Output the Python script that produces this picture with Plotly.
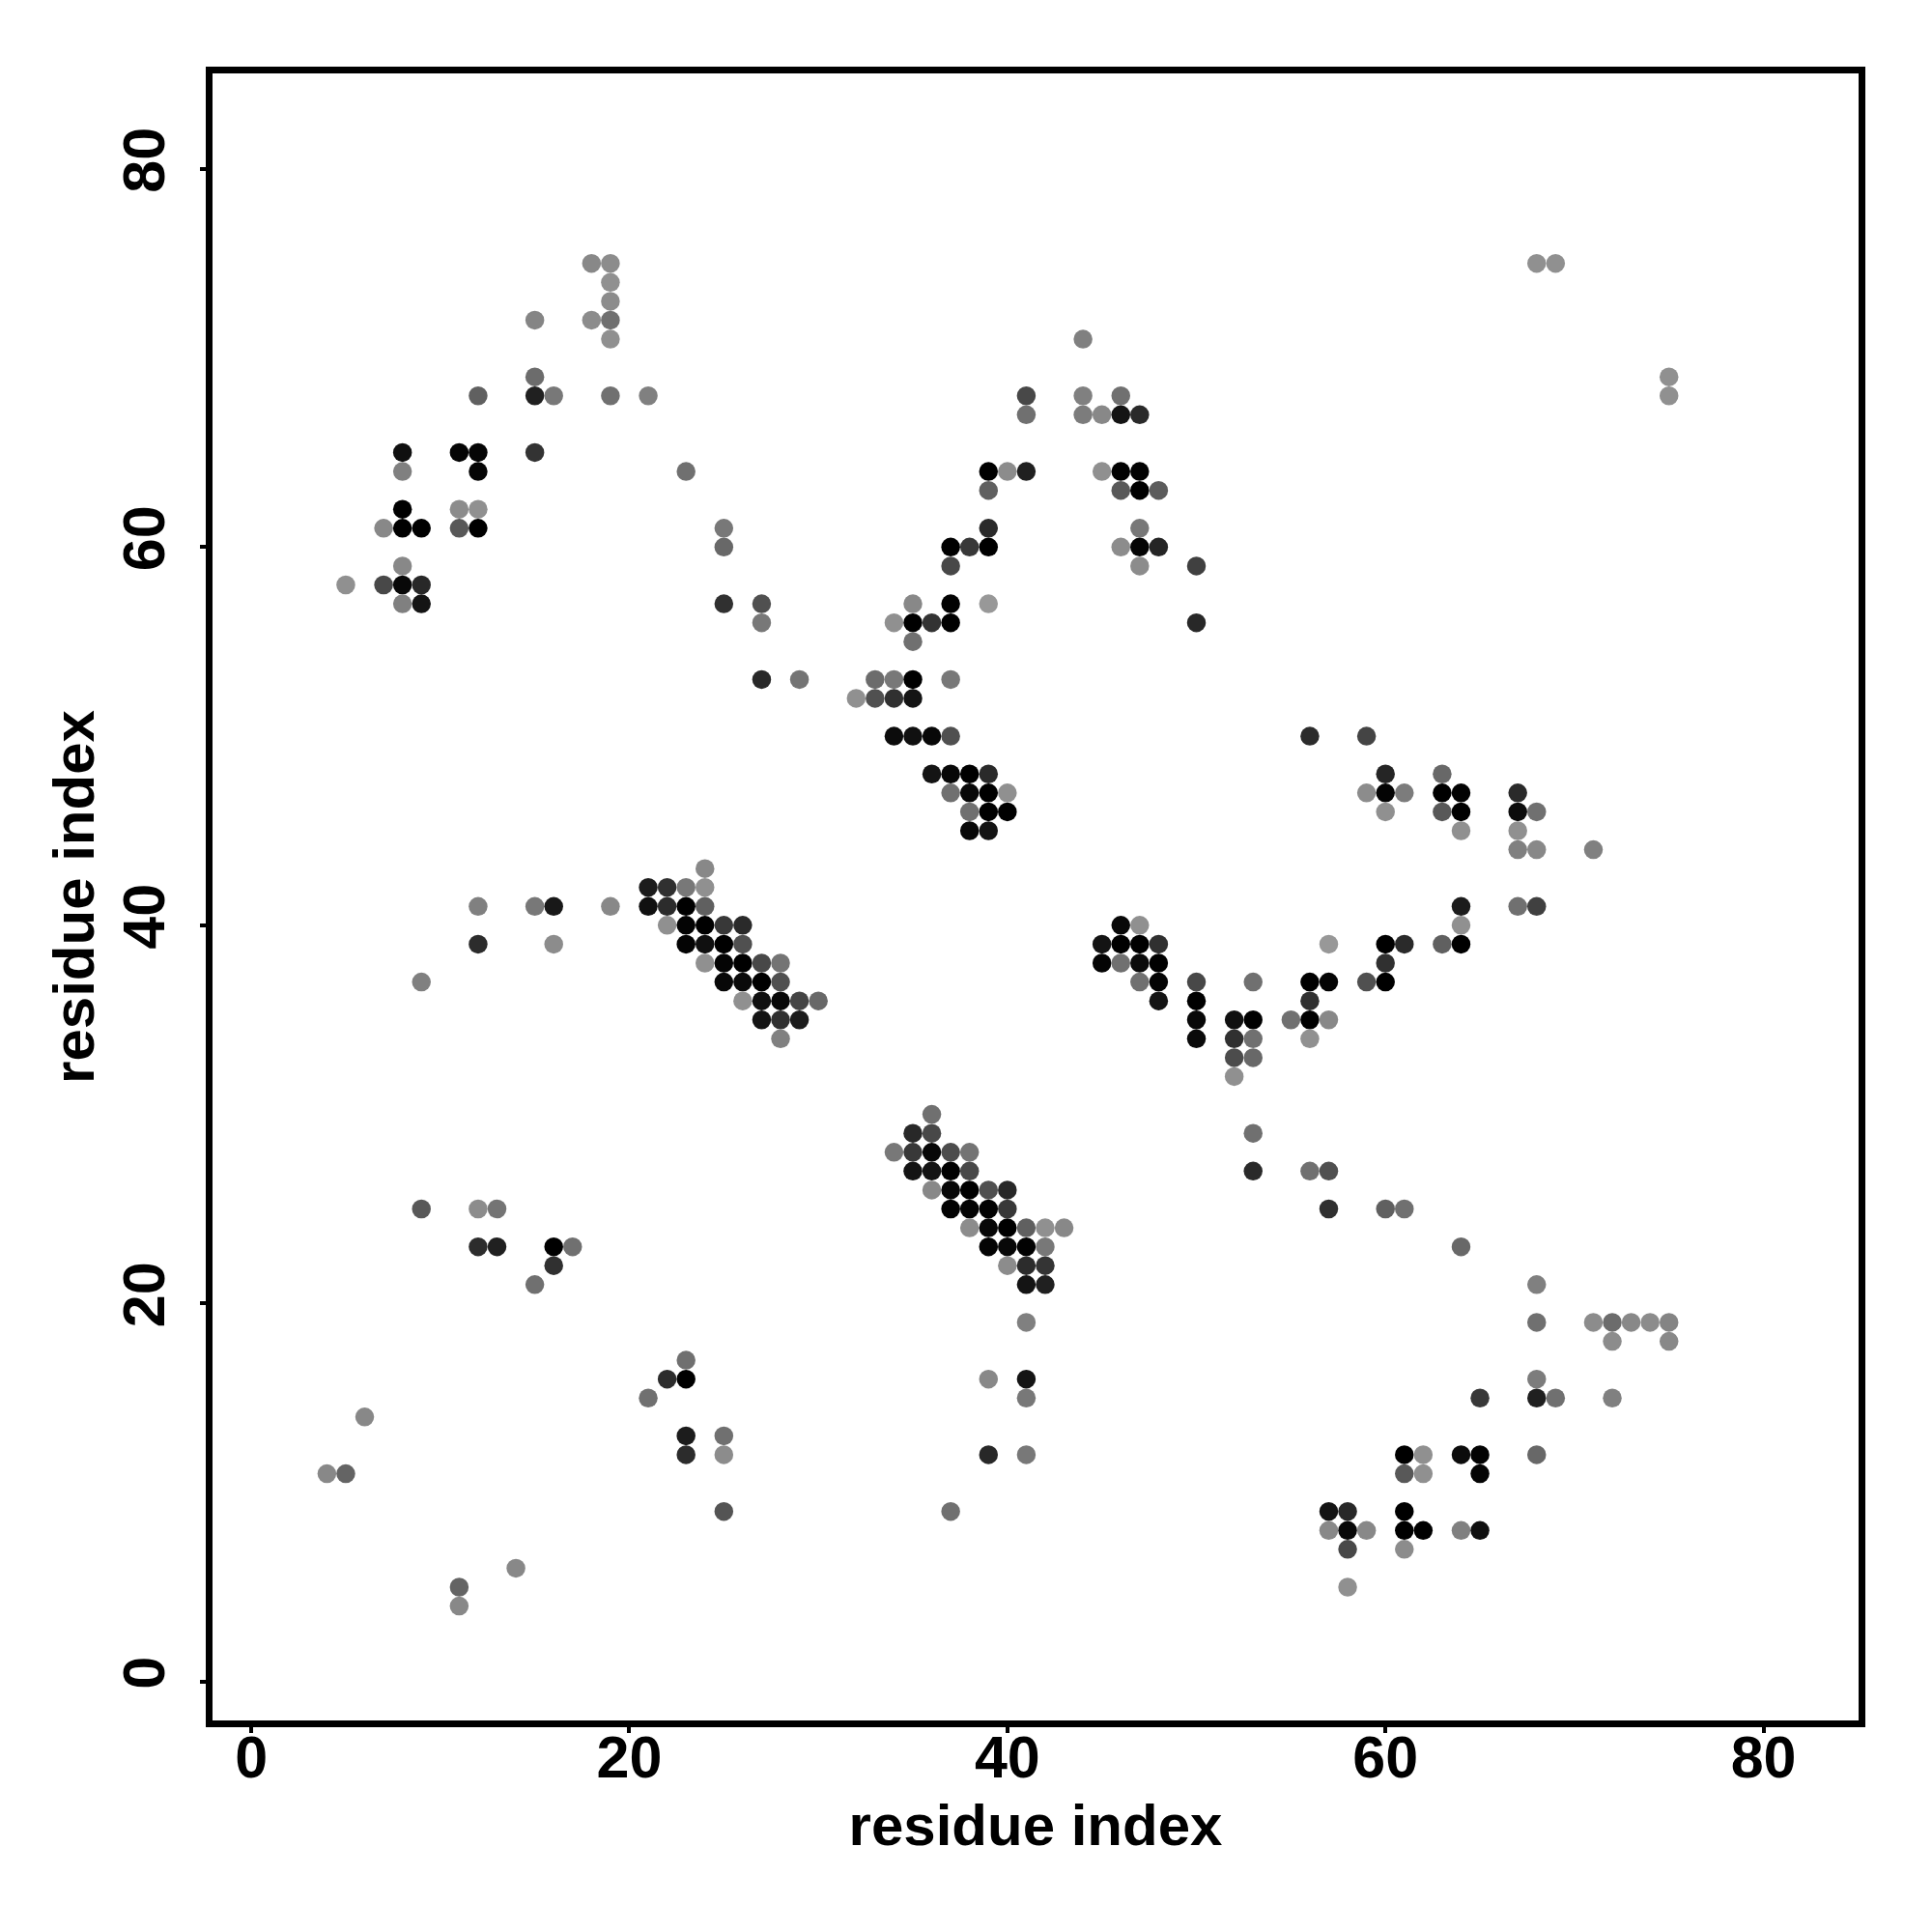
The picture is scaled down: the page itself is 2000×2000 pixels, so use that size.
import plotly.graph_objects as go

row_y = [75, 74, 73, 72, 71, 69, 68, 67, 65, 64, 63, 62, 61, 60, 59, 58, 57, 56, 55, 53, 52, 50, 48, 47, 46, 45, 44,
         43, 42, 41, 40, 39, 38, 37, 36, 35, 34, 33, 32, 30, 29, 28, 27, 26, 25, 24, 23, 22, 21, 19, 18, 17, 16, 15,
         14, 13, 12, 11, 9, 8, 7, 6, 5, 4]

row_x = [
    [18, 19, 68, 69], [19], [19], [15, 18, 19], [19, 44], [15, 75],
    [12, 15, 16, 19, 21, 41, 44, 46, 75], [41, 44, 45, 46, 47], [8, 11, 12, 15],
    [8, 12, 23, 39, 40, 41, 45, 46, 47], [39, 46, 47, 48], [8, 11, 12],
    [7, 8, 9, 11, 12, 25, 39, 47], [25, 37, 38, 39, 46, 47, 48], [8, 37, 47, 50],
    [5, 7, 8, 9], [8, 9, 25, 27, 35, 37, 39], [27, 34, 35, 36, 37, 50], [35],
    [27, 29, 33, 34, 35, 37], [32, 33, 34, 35], [34, 35, 36, 37, 56, 59],
    [36, 37, 38, 39, 60, 63], [37, 38, 39, 40, 59, 60, 61, 63, 64, 67],
    [38, 39, 40, 60, 63, 64, 67, 68], [38, 39, 64, 67], [67, 68, 71],
    [24], [21, 22, 23, 24], [12, 15, 16, 19, 21, 22, 23, 24, 64, 67, 68],
    [22, 23, 24, 25, 26, 46, 47, 64],
    [12, 16, 23, 24, 25, 26, 45, 46, 47, 48, 57, 60, 61, 63, 64],
    [24, 25, 26, 27, 28, 45, 46, 47, 48, 60],
    [9, 25, 26, 27, 28, 47, 48, 50, 53, 56, 57, 59, 60],
    [26, 27, 28, 29, 30, 48, 50, 56], [27, 28, 29, 50, 52, 53, 55, 56, 57],
    [28, 50, 52, 53, 56], [52, 53], [52], [36], [35, 36, 53], [34, 35, 36, 37, 38],
    [35, 36, 37, 38, 53, 56, 57], [36, 37, 38, 39, 40],
    [9, 12, 13, 37, 38, 39, 40, 57, 60, 61], [38, 39, 40, 41, 42, 43],
    [12, 13, 16, 17, 39, 40, 41, 42, 64], [16, 40, 41, 42], [15, 41, 42, 68],
    [41, 68, 71, 72, 73, 74, 75], [72, 75], [23], [22, 23, 39, 41, 68],
    [21, 41, 65, 68, 69, 72], [6], [23, 25], [23, 25, 39, 41, 61, 62, 64, 65, 68],
    [4, 5, 61, 62, 65], [25, 37, 57, 58, 61], [57, 58, 59, 61, 62, 64, 65],
    [58, 61], [14], [11, 58], [11],
]

row_grey = [
    [0x88, 0x8c, 0x90, 0x90], [0x90], [0x8c], [0x85, 0x8c, 0x70], [0x90, 0x80], [0x6c, 0x90],
    [0x60, 0x20, 0x78, 0x70, 0x80, 0x48, 0x80, 0x70, 0x90], [0x70, 0x7c, 0x88, 0x14, 0x2a], [0x10, 0x05, 0x05, 0x33],
    [0x80, 0x05, 0x70, 0x00, 0x8c, 0x20, 0x90, 0x02, 0x02], [0x60, 0x58, 0x00, 0x5c], [0x00, 0x8c, 0x90],
    [0x88, 0x00, 0x00, 0x58, 0x00, 0x78, 0x2a, 0x78], [0x68, 0x00, 0x38, 0x00, 0x8c, 0x05, 0x25], [0x88, 0x48, 0x8c, 0x40],
    [0x90, 0x48, 0x08, 0x28], [0x80, 0x14, 0x30, 0x50, 0x88, 0x02, 0x98], [0x78, 0x90, 0x00, 0x33, 0x00, 0x28], [0x70],
    [0x28, 0x74, 0x6c, 0x78, 0x00, 0x78], [0x90, 0x50, 0x30, 0x14], [0x0c, 0x10, 0x08, 0x50, 0x2c, 0x44],
    [0x14, 0x08, 0x00, 0x2a, 0x25, 0x68], [0x70, 0x08, 0x00, 0x90, 0x8c, 0x04, 0x7c, 0x00, 0x02, 0x2a],
    [0x70, 0x00, 0x00, 0x90, 0x58, 0x00, 0x0c, 0x70], [0x08, 0x14, 0x90, 0x90], [0x80, 0x88, 0x80],
    [0x88], [0x1c, 0x30, 0x78, 0x90], [0x80, 0x78, 0x18, 0x88, 0x10, 0x2c, 0x00, 0x60, 0x1c, 0x70, 0x40],
    [0x90, 0x04, 0x00, 0x38, 0x2a, 0x08, 0x90, 0x90],
    [0x2c, 0x8c, 0x04, 0x10, 0x00, 0x50, 0x14, 0x00, 0x00, 0x30, 0x98, 0x00, 0x2a, 0x60, 0x00],
    [0x90, 0x04, 0x00, 0x48, 0x74, 0x04, 0x70, 0x0c, 0x00, 0x30],
    [0x80, 0x08, 0x0a, 0x00, 0x50, 0x70, 0x04, 0x48, 0x70, 0x00, 0x04, 0x50, 0x00],
    [0x90, 0x10, 0x08, 0x44, 0x68, 0x14, 0x00, 0x30], [0x14, 0x30, 0x1c, 0x08, 0x10, 0x00, 0x70, 0x00, 0x88],
    [0x80, 0x0a, 0x30, 0x70, 0x90], [0x4c, 0x68], [0x90], [0x70], [0x28, 0x48, 0x70], [0x78, 0x38, 0x08, 0x4c, 0x74],
    [0x14, 0x14, 0x00, 0x48, 0x2a, 0x70, 0x50], [0x88, 0x08, 0x00, 0x50, 0x28],
    [0x58, 0x8c, 0x74, 0x02, 0x04, 0x02, 0x38, 0x30, 0x60, 0x70], [0x8c, 0x08, 0x00, 0x60, 0x90, 0x88],
    [0x2c, 0x20, 0x00, 0x70, 0x04, 0x08, 0x02, 0x78, 0x68], [0x30, 0x8c, 0x2c, 0x34], [0x70, 0x14, 0x20, 0x80],
    [0x80, 0x70, 0x8c, 0x6c, 0x88, 0x8c, 0x84], [0x8c, 0x88], [0x70], [0x2c, 0x00, 0x88, 0x14, 0x7c],
    [0x70, 0x78, 0x38, 0x20, 0x70, 0x80], [0x88], [0x1c, 0x70], [0x2c, 0x8c, 0x28, 0x78, 0x00, 0x90, 0x0c, 0x02, 0x68],
    [0x88, 0x64, 0x58, 0x90, 0x04], [0x54, 0x70, 0x14, 0x28, 0x00], [0x88, 0x08, 0x88, 0x00, 0x00, 0x80, 0x10],
    [0x48, 0x8c], [0x88], [0x64, 0x90], [0x88],
]

tick_values = [0, 20, 40, 60, 80]
axis_label = "residue index"

xs, ys, greys = [], [], []
for y, row, shades in zip(row_y, row_x, row_grey, strict=True):
    assert len(row) == len(shades), y
    xs += row
    ys += [y] * len(row)
    greys += shades

FONT = "Liberation Sans"
fig = go.Figure(go.Scatter(
    x=xs, y=ys, mode="markers",
    marker=dict(size=19.5, color=[f"rgb({g},{g},{g})" for g in greys], line=dict(width=0)),
))

axis_common = dict(
    tickmode="array", tickvals=tick_values, ticktext=[str(v) for v in tick_values],
    showgrid=False, zeroline=False, showline=True, mirror=True,
    linecolor="black", linewidth=7, ticks="outside", ticklen=6, tickwidth=4, tickcolor="black",
    tickfont=dict(family=FONT, size=61, color="black", weight="bold"),
)
fig.update_xaxes(range=[-2.05, 85.03], ticklabelstandoff=-27, title=dict(text=axis_label, standoff=18,
                 font=dict(family=FONT, size=60, color="black", weight="bold")), **axis_common)
fig.update_yaxes(range=[-2.05, 85.05], tickangle=-90, ticklabelstandoff=13, title=dict(text=axis_label, standoff=0,
                 font=dict(family=FONT, size=60, color="black", weight="bold")), **axis_common)
fig.update_layout(
    width=1992, height=1992, autosize=False, showlegend=False,
    paper_bgcolor="white", plot_bgcolor="white",
    margin=dict(l=212, r=76, t=68, b=219, autoexpand=False),
)
fig.write_html("out.html")
